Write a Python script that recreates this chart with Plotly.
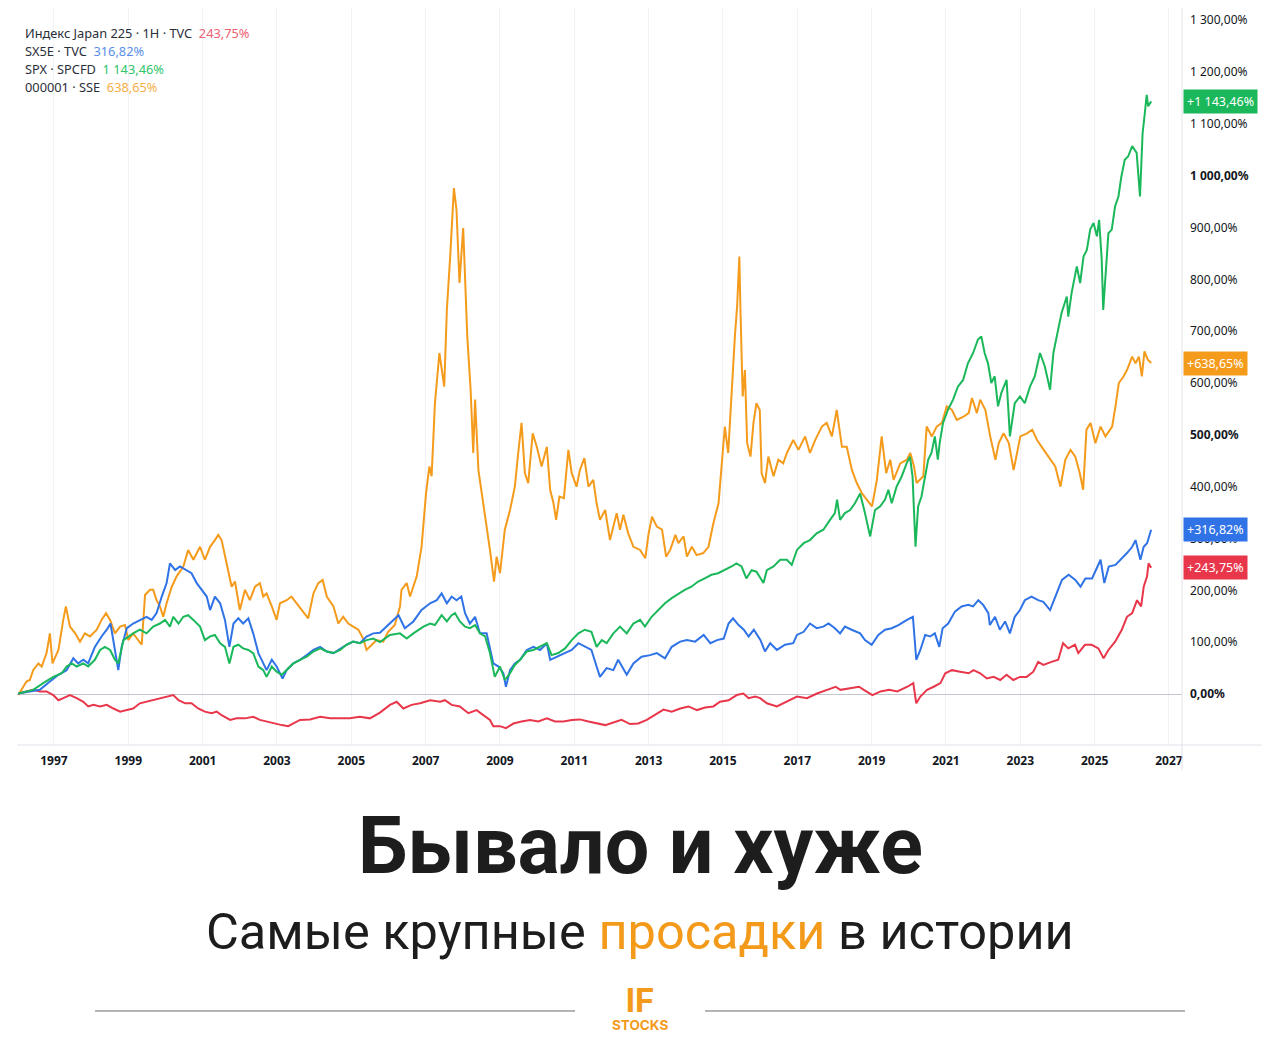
import plotly.graph_objects as go

# --- data: cumulative change in % (decimal years) ---
jp_years = [1996.04, 1996.26, 1996.44, 1996.62, 1996.80, 1996.98, 1997.12, 1997.25, 1997.43, 1997.61,
            1997.79, 1997.92, 1998.06, 1998.24, 1998.42, 1998.60, 1998.78, 1998.96, 1999.13, 1999.31,
            1999.49, 1999.67, 1999.85, 2000.03, 2000.21, 2000.35, 2000.53, 2000.70, 2000.88, 2001.06,
            2001.24, 2001.38, 2001.51, 2001.74, 2001.91, 2002.14, 2002.36, 2002.54, 2002.72, 2002.90,
            2003.13, 2003.30, 2003.44, 2003.62, 2003.89, 2004.16, 2004.43, 2004.70, 2004.96, 2005.23,
            2005.50, 2005.77, 2006.04, 2006.22, 2006.40, 2006.62, 2006.85, 2007.12, 2007.39, 2007.52,
            2007.70, 2007.92, 2008.15, 2008.37, 2008.55, 2008.73, 2008.82, 2009.00, 2009.16, 2009.36,
            2009.58, 2009.81, 2010.03, 2010.26, 2010.48, 2010.71, 2010.93, 2011.15, 2011.38, 2011.60,
            2011.83, 2012.05, 2012.27, 2012.50, 2012.72, 2012.95, 2013.17, 2013.40, 2013.62, 2013.85,
            2014.07, 2014.30, 2014.52, 2014.74, 2014.92, 2015.15, 2015.37, 2015.55, 2015.69, 2015.87,
            2016.00, 2016.18, 2016.45, 2016.72, 2016.99, 2017.26, 2017.53, 2017.80, 2018.03, 2018.16,
            2018.39, 2018.66, 2018.79, 2019.02, 2019.24, 2019.47, 2019.69, 2019.96, 2020.12, 2020.20,
            2020.31, 2020.49, 2020.67, 2020.85, 2020.98, 2021.16, 2021.38, 2021.61, 2021.74, 2021.92,
            2022.10, 2022.28, 2022.46, 2022.63, 2022.81, 2022.99, 2023.17, 2023.35, 2023.48, 2023.62,
            2023.84, 2024.02, 2024.15, 2024.29, 2024.47, 2024.56, 2024.74, 2024.92, 2025.10, 2025.24,
            2025.37, 2025.55, 2025.73, 2025.87, 2026.01, 2026.14, 2026.25, 2026.32, 2026.41, 2026.45,
            2026.52]
jp_vals = [1, 5, 8, 5, 5, -2, -12, -8, -2, -8,
           -15, -24, -21, -24, -21, -28, -34, -31, -28, -18,
           -15, -12, -8, -5, -2, -12, -18, -18, -28, -34,
           -37, -34, -41, -50, -47, -47, -44, -50, -53, -57,
           -60, -62, -57, -50, -49, -44, -47, -47, -47, -44,
           -47, -36, -21, -15, -28, -21, -18, -12, -15, -12,
           -21, -24, -37, -31, -41, -50, -62, -62, -66, -57,
           -53, -50, -53, -47, -53, -53, -50, -49, -53, -57,
           -60, -55, -50, -58, -57, -50, -41, -30, -34, -28,
           -24, -31, -26, -24, -15, -12, -2, 1, -8, -5,
           -8, -18, -24, -15, -5, -8, 1, 8, 14, 8,
           11, 14, 8, -2, 5, 8, 5, 14, 21, -18,
           -5, 8, 14, 21, 40, 46, 43, 40, 46, 40,
           30, 33, 27, 37, 27, 33, 33, 43, 62, 56,
           62, 66, 98, 88, 95, 79, 95, 95, 88, 69,
           85, 101, 124, 149, 156, 181, 169, 207, 227, 252,
           243.75]

sx5e_years = [1996.04, 1996.35, 1996.62, 1996.89, 1997.12, 1997.34, 1997.52, 1997.65, 1997.79, 1997.92,
              1998.10, 1998.28, 1998.42, 1998.52, 1998.61, 1998.73, 1998.82, 1998.96, 1999.13, 1999.31,
              1999.49, 1999.63, 1999.76, 1999.90, 2000.03, 2000.12, 2000.26, 2000.39, 2000.57, 2000.70,
              2000.84, 2000.97, 2001.11, 2001.20, 2001.33, 2001.47, 2001.60, 2001.72, 2001.83, 2001.96,
              2002.09, 2002.23, 2002.36, 2002.50, 2002.63, 2002.72, 2002.86, 2002.99, 2003.15, 2003.26,
              2003.44, 2003.62, 2003.80, 2003.98, 2004.16, 2004.34, 2004.52, 2004.70, 2004.87, 2005.05,
              2005.23, 2005.41, 2005.59, 2005.77, 2006.04, 2006.27, 2006.44, 2006.67, 2006.89, 2007.12,
              2007.30, 2007.43, 2007.57, 2007.70, 2007.83, 2007.96, 2008.06, 2008.19, 2008.33, 2008.46,
              2008.64, 2008.73, 2008.82, 2008.96, 2009.09, 2009.16, 2009.27, 2009.40, 2009.54, 2009.72,
              2009.90, 2010.08, 2010.26, 2010.35, 2010.53, 2010.71, 2010.93, 2011.11, 2011.28, 2011.46,
              2011.60, 2011.69, 2011.87, 2012.05, 2012.18, 2012.41, 2012.59, 2012.81, 2013.04, 2013.22,
              2013.44, 2013.62, 2013.85, 2014.03, 2014.25, 2014.48, 2014.66, 2014.84, 2015.02, 2015.15,
              2015.27, 2015.42, 2015.56, 2015.69, 2015.83, 2016.01, 2016.13, 2016.27, 2016.45, 2016.67,
              2016.89, 2016.99, 2017.17, 2017.34, 2017.52, 2017.70, 2017.84, 2018.01, 2018.15, 2018.28,
              2018.46, 2018.69, 2018.82, 2019.00, 2019.18, 2019.36, 2019.54, 2019.72, 2019.95, 2020.11,
              2020.20, 2020.31, 2020.44, 2020.57, 2020.70, 2020.82, 2020.91, 2021.06, 2021.24, 2021.42,
              2021.60, 2021.73, 2021.87, 2022.00, 2022.14, 2022.18, 2022.32, 2022.45, 2022.59, 2022.72,
              2022.85, 2022.99, 2023.12, 2023.30, 2023.48, 2023.62, 2023.80, 2023.94, 2024.12, 2024.30,
              2024.48, 2024.62, 2024.75, 2024.93, 2025.07, 2025.16, 2025.26, 2025.38, 2025.56, 2025.74,
              2025.87, 2026.01, 2026.10, 2026.23, 2026.32, 2026.41, 2026.52]
sx5e_vals = [1, 5, 8, 24, 37, 46, 69, 59, 66, 59,
             91, 111, 124, 136, 98, 46, 91, 127, 136, 143,
             149, 143, 156, 188, 214, 252, 239, 246, 239, 233,
             214, 201, 188, 162, 188, 175, 143, 91, 136, 146,
             136, 146, 117, 79, 59, 46, 66, 53, 30, 46,
             59, 66, 75, 85, 91, 82, 79, 88, 95, 101,
             98, 111, 117, 118, 136, 152, 127, 140, 162, 175,
             181, 194, 175, 188, 181, 188, 156, 136, 149, 117,
             117, 85, 59, 53, 40, 14, 46, 59, 66, 85,
             91, 85, 98, 66, 72, 79, 85, 98, 91, 85,
             53, 33, 50, 46, 66, 37, 59, 72, 75, 79,
             69, 91, 101, 104, 101, 114, 98, 104, 107, 136,
             146, 133, 124, 111, 124, 104, 82, 98, 85, 95,
             98, 114, 120, 136, 127, 130, 136, 127, 117, 130,
             124, 117, 104, 95, 114, 124, 127, 133, 143, 149,
             66, 85, 114, 111, 117, 91, 127, 136, 159, 169,
             172, 169, 181, 172, 156, 133, 149, 124, 140, 117,
             149, 162, 181, 188, 181, 178, 162, 188, 220, 230,
             220, 207, 223, 223, 246, 259, 214, 246, 249, 262,
             272, 284, 297, 259, 284, 291, 316.82]

spx_years = [1996.04, 1996.44, 1996.71, 1996.98, 1997.21, 1997.34, 1997.48, 1997.61, 1997.79, 1997.92,
             1998.10, 1998.24, 1998.37, 1998.51, 1998.64, 1998.73, 1998.87, 1999.00, 1999.13, 1999.31,
             1999.49, 1999.67, 1999.85, 1999.99, 2000.12, 2000.21, 2000.35, 2000.48, 2000.61, 2000.75,
             2000.93, 2001.06, 2001.20, 2001.33, 2001.47, 2001.60, 2001.72, 2001.83, 2001.96, 2002.09,
             2002.23, 2002.36, 2002.50, 2002.63, 2002.72, 2002.86, 2002.99, 2003.13, 2003.26, 2003.44,
             2003.62, 2003.80, 2003.98, 2004.16, 2004.34, 2004.52, 2004.70, 2004.87, 2005.05, 2005.23,
             2005.41, 2005.59, 2005.77, 2006.04, 2006.31, 2006.49, 2006.67, 2006.94, 2007.12, 2007.25,
             2007.43, 2007.57, 2007.70, 2007.79, 2007.92, 2008.06, 2008.19, 2008.33, 2008.46, 2008.60,
             2008.73, 2008.86, 2009.00, 2009.13, 2009.27, 2009.40, 2009.54, 2009.72, 2009.90, 2010.08,
             2010.26, 2010.39, 2010.57, 2010.75, 2010.93, 2011.11, 2011.28, 2011.46, 2011.60, 2011.74,
             2011.87, 2012.05, 2012.23, 2012.41, 2012.59, 2012.77, 2012.90, 2013.08, 2013.26, 2013.44,
             2013.62, 2013.80, 2013.97, 2014.15, 2014.33, 2014.51, 2014.69, 2014.87, 2015.05, 2015.23,
             2015.36, 2015.50, 2015.63, 2015.77, 2015.90, 2016.09, 2016.18, 2016.36, 2016.54, 2016.72,
             2016.85, 2016.99, 2017.17, 2017.34, 2017.52, 2017.70, 2017.88, 2018.01, 2018.07, 2018.15,
             2018.28, 2018.42, 2018.55, 2018.69, 2018.82, 2018.96, 2019.09, 2019.23, 2019.36, 2019.45,
             2019.54, 2019.67, 2019.81, 2019.94, 2020.03, 2020.10, 2020.18, 2020.25, 2020.34, 2020.43,
             2020.52, 2020.61, 2020.70, 2020.78, 2020.83, 2020.92, 2021.05, 2021.19, 2021.32, 2021.46,
             2021.59, 2021.73, 2021.86, 2021.95, 2022.04, 2022.13, 2022.22, 2022.31, 2022.40, 2022.49,
             2022.63, 2022.72, 2022.85, 2022.99, 2023.12, 2023.26, 2023.39, 2023.53, 2023.66, 2023.80,
             2023.89, 2023.98, 2024.11, 2024.25, 2024.29, 2024.38, 2024.52, 2024.61, 2024.70, 2024.79,
             2024.88, 2024.97, 2025.06, 2025.12, 2025.19, 2025.23, 2025.30, 2025.37, 2025.46, 2025.55,
             2025.64, 2025.72, 2025.81, 2025.90, 2026.01, 2026.13, 2026.22, 2026.29, 2026.35, 2026.40,
             2026.44, 2026.52]
spx_vals = [1, 8, 21, 33, 40, 53, 59, 53, 59, 53,
            66, 85, 91, 85, 66, 59, 104, 111, 117, 124,
            117, 130, 136, 143, 130, 149, 136, 149, 152, 143,
            130, 104, 111, 114, 98, 91, 59, 91, 95, 88,
            85, 79, 53, 46, 33, 53, 43, 37, 46, 59,
            66, 72, 82, 88, 82, 79, 85, 95, 101, 98,
            104, 107, 100, 114, 117, 107, 117, 130, 136, 133,
            152, 140, 152, 156, 140, 130, 127, 133, 117, 111,
            79, 33, 53, 27, 40, 56, 66, 82, 85, 91,
            98, 75, 79, 88, 104, 117, 124, 120, 91, 104,
            98, 117, 130, 117, 136, 143, 130, 149, 162, 175,
            185, 194, 201, 207, 217, 223, 230, 233, 239, 246,
            252, 246, 223, 239, 236, 214, 239, 246, 259, 259,
            249, 278, 291, 297, 310, 317, 336, 349, 375, 336,
            349, 355, 368, 387, 349, 304, 355, 362, 375, 394,
            368, 400, 420, 445, 458, 420, 284, 362, 381, 413,
            452, 465, 497, 452, 484, 523, 548, 568, 593, 606,
            638, 658, 684, 690, 658, 638, 600, 613, 555, 581,
            606, 497, 561, 574, 561, 593, 613, 658, 632, 587,
            658, 690, 735, 767, 728, 774, 825, 793, 844, 857,
            896, 909, 883, 915, 838, 741, 825, 889, 896, 941,
            960, 999, 1031, 1037, 1057, 1044, 960, 1082, 1121, 1156,
            1134, 1143.46]

sse_years = [1996.04, 1996.26, 1996.35, 1996.44, 1996.58, 1996.67, 1996.80, 1996.89, 1996.96, 1997.12,
             1997.25, 1997.32, 1997.43, 1997.57, 1997.70, 1997.83, 1997.97, 1998.15, 1998.28, 1998.40,
             1998.51, 1998.64, 1998.78, 1998.91, 1999.00, 1999.13, 1999.36, 1999.45, 1999.58, 1999.67,
             1999.76, 1999.85, 1999.94, 2000.03, 2000.17, 2000.30, 2000.48, 2000.61, 2000.75, 2000.93,
             2001.06, 2001.20, 2001.33, 2001.42, 2001.51, 2001.65, 2001.78, 2001.87, 2002.00, 2002.14,
             2002.27, 2002.41, 2002.54, 2002.63, 2002.72, 2002.86, 2002.99, 2003.08, 2003.26, 2003.39,
             2003.53, 2003.71, 2003.84, 2003.98, 2004.11, 2004.23, 2004.34, 2004.52, 2004.65, 2004.78,
             2004.92, 2005.05, 2005.19, 2005.32, 2005.41, 2005.55, 2005.68, 2005.86, 2005.99, 2006.17,
             2006.31, 2006.35, 2006.49, 2006.58, 2006.76, 2006.89, 2007.01, 2007.10, 2007.16, 2007.25,
             2007.37, 2007.50, 2007.57, 2007.66, 2007.76, 2007.83, 2007.91, 2008.01, 2008.12, 2008.21,
             2008.28, 2008.33, 2008.42, 2008.51, 2008.62, 2008.73, 2008.84, 2008.91, 2009.00, 2009.13,
             2009.27, 2009.40, 2009.49, 2009.58, 2009.67, 2009.76, 2009.88, 2009.99, 2010.12, 2010.26,
             2010.35, 2010.44, 2010.51, 2010.60, 2010.72, 2010.84, 2010.93, 2011.06, 2011.15, 2011.27,
             2011.38, 2011.51, 2011.60, 2011.69, 2011.83, 2011.96, 2012.14, 2012.23, 2012.32, 2012.45,
             2012.59, 2012.77, 2012.91, 2013.00, 2013.09, 2013.22, 2013.36, 2013.47, 2013.58, 2013.72,
             2013.80, 2013.94, 2014.03, 2014.16, 2014.29, 2014.47, 2014.61, 2014.74, 2014.88, 2014.97,
             2015.05, 2015.14, 2015.23, 2015.32, 2015.38, 2015.44, 2015.47, 2015.53, 2015.59, 2015.65,
             2015.74, 2015.82, 2015.90, 2015.99, 2016.04, 2016.13, 2016.22, 2016.36, 2016.49, 2016.62,
             2016.72, 2016.89, 2017.03, 2017.21, 2017.34, 2017.48, 2017.66, 2017.79, 2017.93, 2018.06,
             2018.20, 2018.33, 2018.47, 2018.60, 2018.74, 2018.87, 2019.01, 2019.14, 2019.27, 2019.39,
             2019.50, 2019.59, 2019.77, 2019.95, 2020.04, 2020.14, 2020.21, 2020.39, 2020.48, 2020.62,
             2020.75, 2020.89, 2021.02, 2021.16, 2021.29, 2021.47, 2021.61, 2021.70, 2021.83, 2021.92,
             2022.06, 2022.19, 2022.33, 2022.42, 2022.55, 2022.69, 2022.82, 2023.00, 2023.18, 2023.32,
             2023.45, 2023.63, 2023.81, 2023.94, 2024.08, 2024.21, 2024.35, 2024.48, 2024.60, 2024.69,
             2024.78, 2024.89, 2025.02, 2025.16, 2025.29, 2025.47, 2025.56, 2025.65, 2025.78, 2025.87,
             2026.01, 2026.10, 2026.19, 2026.27, 2026.34, 2026.43, 2026.52]
sse_vals = [-2, 24, 27, 46, 59, 53, 79, 117, 59, 85,
            143, 169, 130, 117, 101, 117, 111, 124, 143, 156,
            143, 117, 130, 133, 104, 117, 95, 191, 201, 201,
            181, 169, 149, 175, 207, 227, 246, 278, 259, 284,
            259, 284, 297, 307, 297, 252, 207, 217, 162, 201,
            181, 207, 214, 188, 194, 169, 143, 175, 181, 188,
            175, 156, 146, 194, 214, 220, 188, 169, 136, 149,
            136, 130, 124, 107, 85, 95, 104, 101, 120, 133,
            169, 201, 214, 188, 227, 284, 387, 439, 420, 561,
            658, 593, 741, 844, 976, 934, 793, 899, 690, 587,
            465, 568, 432, 387, 336, 278, 217, 265, 233, 317,
            355, 400, 465, 523, 426, 407, 503, 477, 439, 477,
            394, 368, 336, 381, 378, 471, 426, 400, 432, 455,
            400, 413, 368, 336, 355, 297, 349, 317, 346, 310,
            284, 278, 262, 310, 342, 323, 317, 265, 278, 307,
            291, 304, 265, 284, 268, 272, 284, 329, 368, 445,
            516, 465, 587, 690, 748, 844, 741, 574, 625, 484,
            458, 523, 561, 548, 426, 407, 458, 420, 452, 445,
            465, 490, 471, 497, 465, 490, 516, 523, 497, 548,
            477, 477, 432, 407, 387, 375, 362, 413, 497, 426,
            452, 413, 445, 452, 465, 439, 407, 420, 516, 497,
            516, 523, 555, 548, 529, 535, 542, 571, 542, 568,
            548, 497, 452, 484, 503, 484, 432, 497, 503, 510,
            490, 471, 452, 439, 400, 452, 471, 458, 426, 394,
            510, 523, 484, 516, 497, 516, 555, 600, 613, 625,
            651, 638, 651, 613, 661, 645, 638.65]

series_names = ["Индекс Japan 225 · 1H · TVC", "SX5E · TVC", "SPX · SPCFD", "000001 · SSE"]
series_colors = ["#e8374b", "#2f73e6", "#1ab85a", "#f59b1c"]
legend_colors = ["#ec6070", "#5a8fe8", "#2fc56a", "#f6ae48"]

year_ticks = list(range(1997, 2028, 2))
pct_ticks = list(range(0, 1301, 100))
bold_ticks = [0, 500, 1000]


def fmt_pct(v):
    s = f"{v:,.2f}".replace(",", "\u00a0").replace(".", ",")
    return s + "%"


fig = go.Figure()
all_series = [(jp_years, jp_vals), (sx5e_years, sx5e_vals), (spx_years, spx_vals), (sse_years, sse_vals)]
# SSE first so the other lines sit on top, as in the original
for i in [3, 0, 1, 2]:
    xs, ys = all_series[i]
    fig.add_trace(go.Scatter(x=xs, y=ys, mode="lines", name=series_names[i],
                             line=dict(color=series_colors[i], width=2), hoverinfo="skip"))

ann = []
# legend block, top-left
for i, name in enumerate(series_names):
    last = all_series[i][1][-1]
    ann.append(dict(xref="paper", yref="paper", x=0.0052, y=0.9661 - i * 0.0244,
                    xanchor="left", yanchor="middle", showarrow=False,
                    text=f"{name}&nbsp;&nbsp;<span style='color:{legend_colors[i]}'>{fmt_pct(last)}</span>",
                    font=dict(family="Noto Sans", size=12.8, color="#2a2e39")))

# last-value badges on the price scale
for i in range(4):
    last = all_series[i][1][-1]
    ann.append(dict(xref="paper", yref="y", x=1, y=last, xanchor="left", yanchor="middle",
                    xshift=1, showarrow=False, text="+" + fmt_pct(last),
                    bgcolor=series_colors[i], borderpad=3,
                    font=dict(family="Noto Sans", size=12.5, color="white")))

# headline, subtitle, logo
ann.append(dict(xref="paper", yref="paper", x=0.5348, y=-0.137, xanchor="center", yanchor="middle",
                showarrow=False, text="<b>Бывало и хуже</b>",
                font=dict(family="Roboto", size=79, color="#1d1d1d")))
ann.append(dict(xref="paper", yref="paper", x=0.5348, y=-0.2524, xanchor="center", yanchor="middle",
                showarrow=False,
                text="Самые крупные <span style='color:#f39a1a'>просадки</span> в истории",
                font=dict(family="Roboto", size=50.5, color="#1d1d1d")))
ann.append(dict(xref="paper", yref="paper", x=0.5348, y=-0.355, xanchor="center", yanchor="middle",
                showarrow=False,
                text="<span style='font-size:33px'><b>IF</b></span><br><b>STOCKS</b>",
                font=dict(family="Inter", size=13.5, color="#f39a1a", weight=900)))

shapes = [
    # price scale separator and time axis line
    dict(type="line", xref="paper", yref="paper", x0=1, x1=1, y0=1, y1=-0.034,
         line=dict(color="#e0e3eb", width=1)),
    dict(type="line", xref="paper", yref="paper", x0=0, x1=1.0687, y0=0, y1=0,
         line=dict(color="#e0e3eb", width=1)),
    # rules on both sides of the logo
    dict(type="line", xref="paper", yref="paper", x0=0.0670, x1=0.4790, y0=-0.3609, y1=-0.3609,
         line=dict(color="#6b6b6b", width=1)),
    dict(type="line", xref="paper", yref="paper", x0=0.5906, x1=1.0026, y0=-0.3609, y1=-0.3609,
         line=dict(color="#6b6b6b", width=1)),
]

fig.update_layout(
    width=1272, height=1040,
    margin=dict(l=9, r=98, t=0, b=303),
    paper_bgcolor="white", plot_bgcolor="white",
    showlegend=False, hovermode=False,
    annotations=ann, shapes=shapes,
    xaxis=dict(range=[1996.005, 2027.35], tickvals=year_ticks,
               ticktext=[f"<b>{y}</b>" for y in year_ticks],
               showgrid=True, gridcolor="#f0f2f6", gridwidth=1, zeroline=False,
               showline=False, ticks="", ticklabelstandoff=7,
               tickfont=dict(family="Noto Sans", size=12, color="#131722")),
    yaxis=dict(range=[-98.4, 1323.6], side="right", tickvals=pct_ticks,
               ticktext=[f"<b>{fmt_pct(v)}</b>" if v in bold_ticks else fmt_pct(v) for v in pct_ticks],
               showgrid=False, zeroline=True, zerolinecolor="#c3c6ce", zerolinewidth=1,
               showline=False, ticks="", ticklabelstandoff=7,
               tickfont=dict(family="Noto Sans", size=12, color="#131722")),
)

fig.write_html("out.html")
